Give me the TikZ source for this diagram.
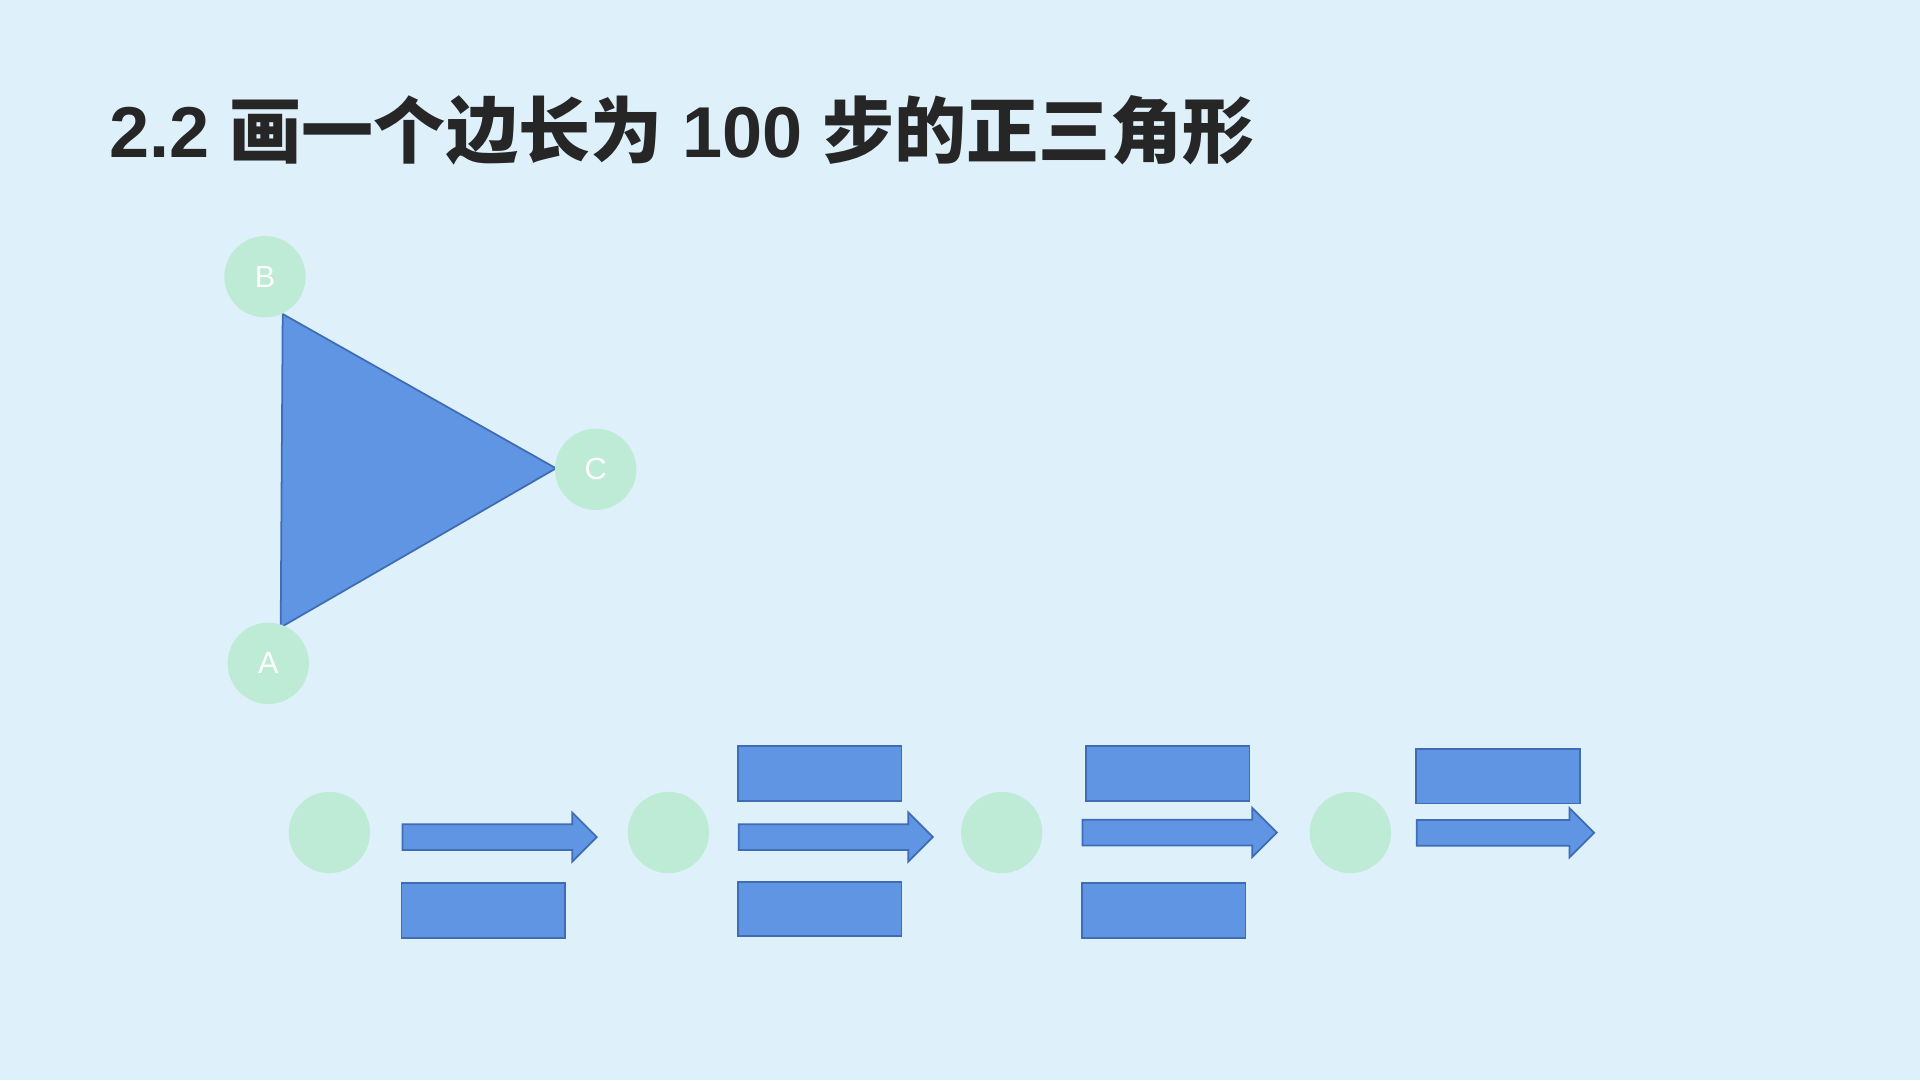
\documentclass[tikz,border=0pt]{standalone}
\usepackage{fontspec}
\usepackage{tikz}
\usetikzlibrary{shapes.arrows}
\newfontfamily\cjk{Noto Sans CJK SC Black}
\newfontfamily\labelfont{Liberation Sans}
\definecolor{bgblue}{HTML}{DEF0FA}
\definecolor{dotgreen}{HTML}{BDEBD6}
\definecolor{fillblue}{HTML}{5F95E3}
\definecolor{lineblue}{HTML}{3F6CB5}
\definecolor{titlegray}{HTML}{262626}
\tikzset{
	% Three node styles: green dots, blue boxes and blue block arrows
	dot node/.style={circle,fill=dotgreen,minimum size=8.13mm,inner sep=0,text=white,font=\labelfont\fontsize{8.7}{10}\selectfont},
	box node/.style={rectangle,draw=lineblue,fill=fillblue,line width=0.5pt,minimum width=16.35mm,minimum height=5.45mm,inner sep=0},
	arrow node/.style={single arrow,draw=lineblue,fill=fillblue,line width=0.5pt,inner xsep=0,inner ysep=1.2mm,single arrow head extend=1.17mm,anchor=tail}
}
% digits of the title
\newcommand{\num}[1]{{\labelfont\bfseries #1}}

\begin{document}
\begin{tikzpicture}[x=0.1mm,y=-0.1mm]
	% page background
	\fill[bgblue] (0,0) rectangle (1920,1080);
	\useasboundingbox (0,0) rectangle (1920,1080);
	
	\node(title)[anchor=base west,inner sep=0,text=titlegray,font=\cjk\fontsize{20.5}{24}\selectfont] at (109,157) {\num{2.2 }画一个边长为\num{ 100 }步的正三角形};
	
	% the triangle and its three corners
	\coordinate (vA) at (280.7,627.3);
	\coordinate (vB) at (282.7,314);
	\coordinate (vC) at (556,468.3);
	\filldraw[fill=fillblue,draw=lineblue,line width=0.5pt,line join=round] (vA) -- (vB) -- (vC) -- cycle;
	\node(A)[dot node] at (268.3,663.3) {A};
	\node(B)[dot node] at (265,276.7) {B};
	\node(C)[dot node] at (595.7,469.3) {C};
	
	% the steps, from left to right
	\node(d1)[dot node] at (329.4,832.5) {};
	\node(a1)[arrow node,minimum height=19.42mm] at (401.7,837) {};
	\node(b1-low)[box node] at (483.2,910.5) {};
	
	\node(d2)[dot node] at (668.4,832.5) {};
	\node(b2-up)[box node] at (819.8,773.4) {};
	\node(a2)[arrow node,minimum height=19.41mm] at (737.9,837) {};
	\node(b2-low)[box node] at (819.8,909) {};
	
	\node(d3)[dot node] at (1001.7,832.5) {};
	\node(b3-up)[box node] at (1167.8,773.4) {};
	\node(a3)[arrow node,minimum height=19.44mm] at (1081.6,832.5) {};
	\node(b3-low)[box node] at (1163.7,910.4) {};
	
	\node(d4)[dot node] at (1350.4,832.5) {};
	\node(b4-up)[box node] at (1497.9,776.2) {};
	\node(a4)[arrow node,minimum height=17.74mm] at (1415.8,832.8) {};
\end{tikzpicture}
\end{document}
